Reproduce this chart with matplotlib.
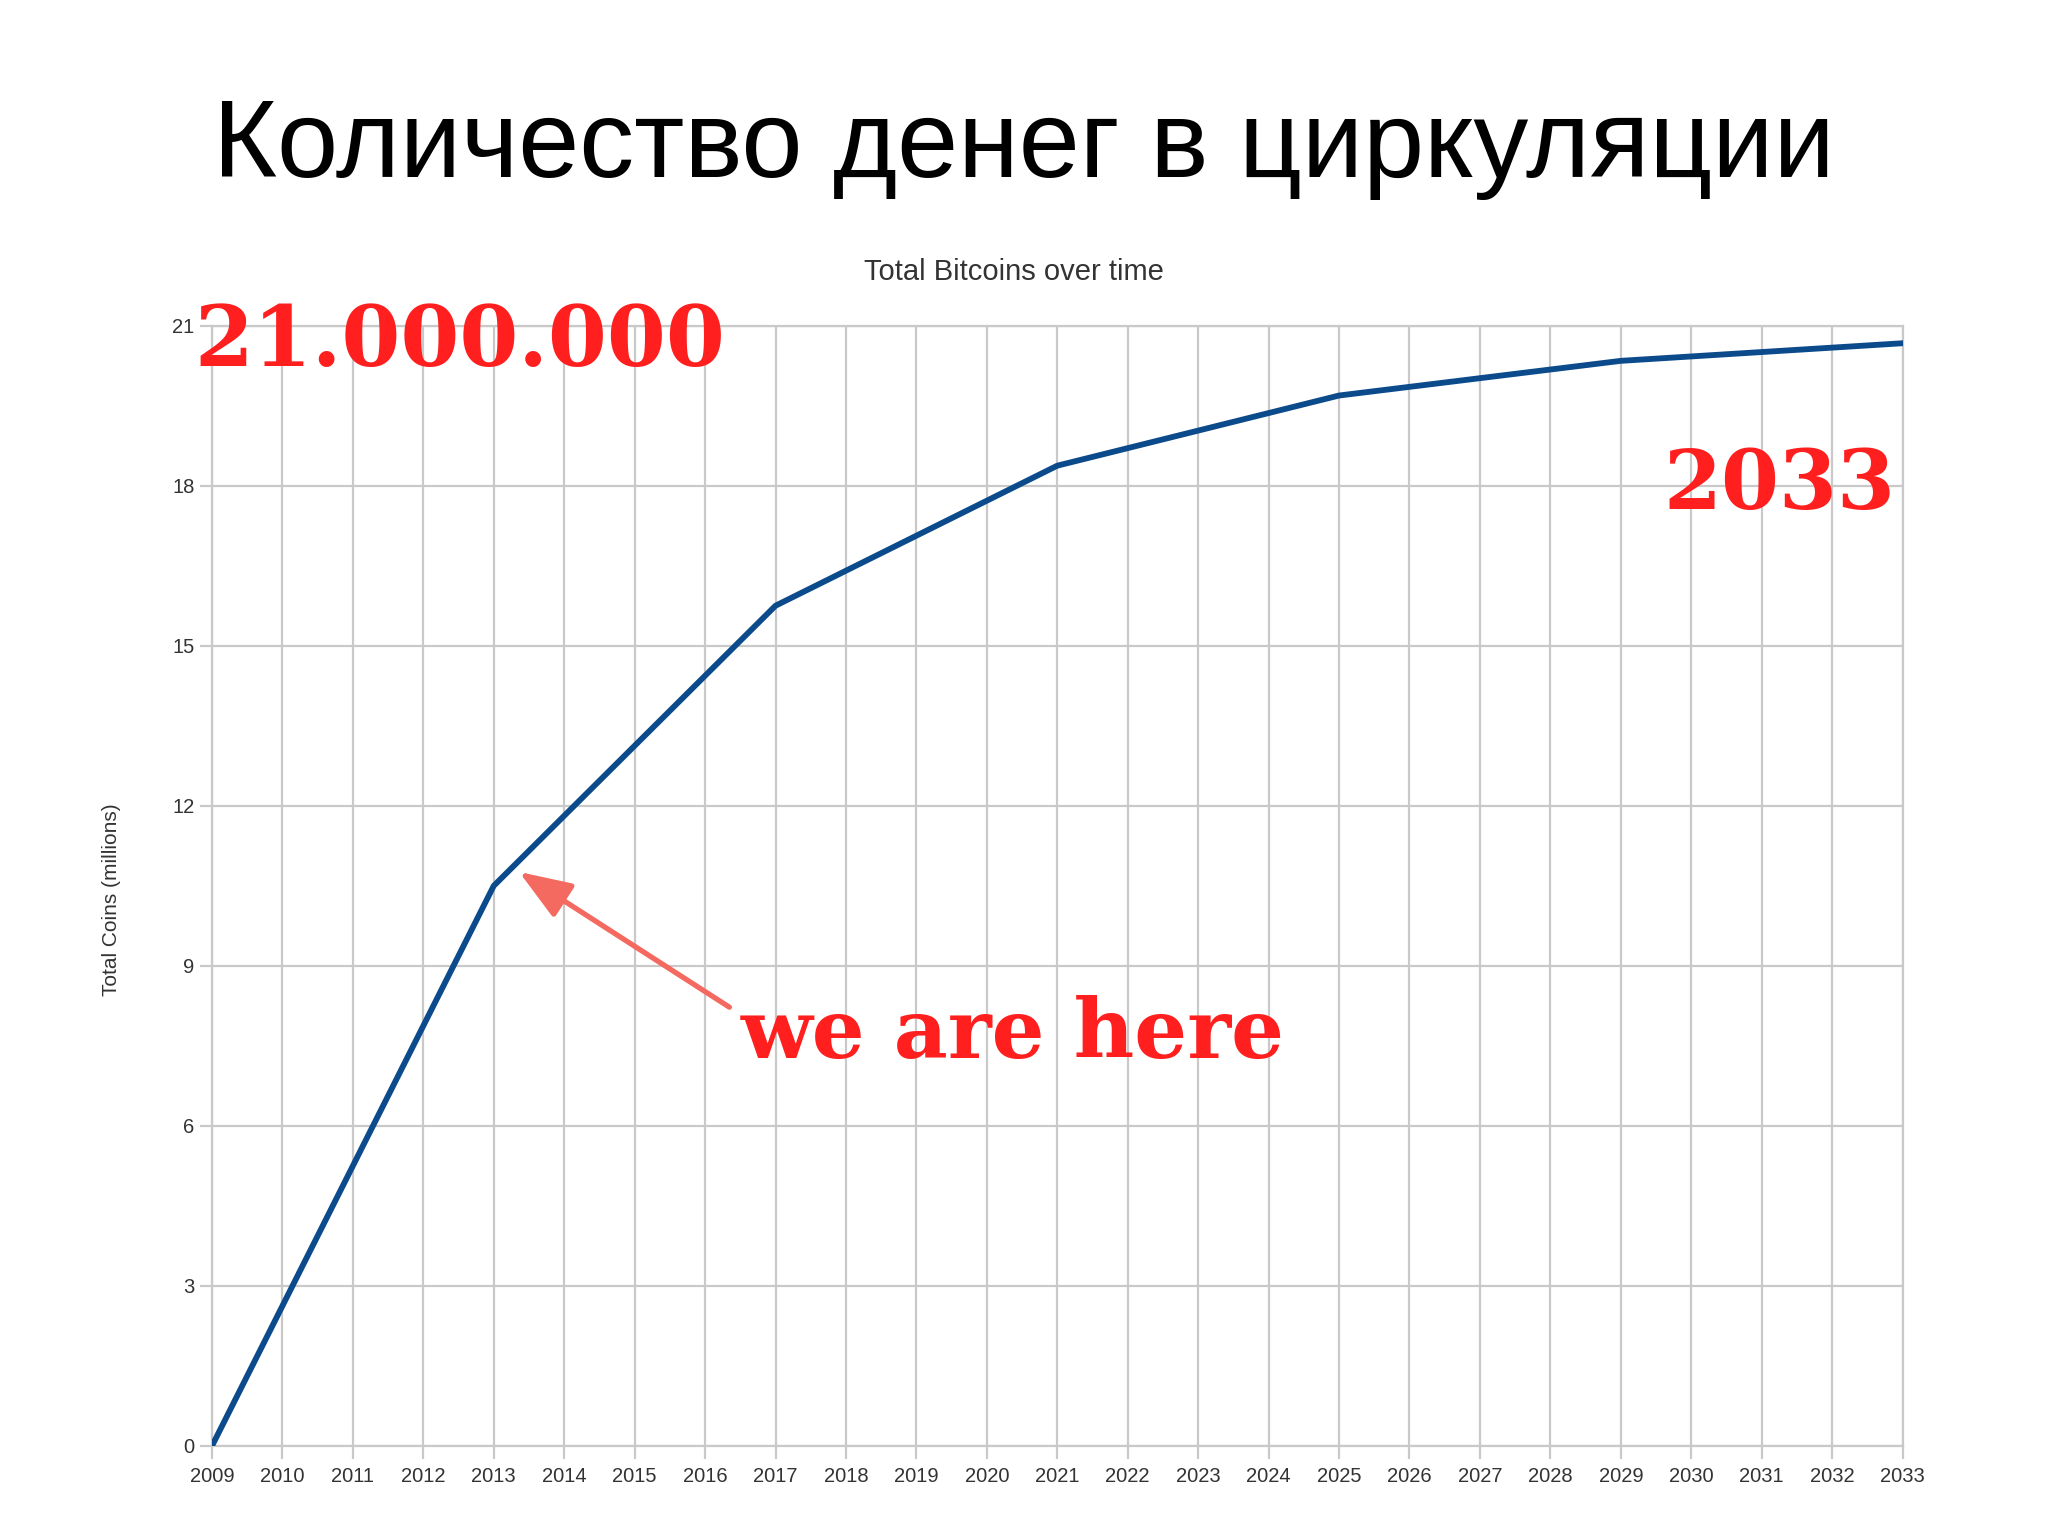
import numpy as np
import matplotlib
matplotlib.use("Agg")
import matplotlib.pyplot as plt

# data (halving points, line is straight between them)
years = [2009, 2013, 2017, 2021, 2025, 2029, 2033]
coins = [0.0, 10.5, 15.75, 18.375, 19.69, 20.34, 20.67]
year_ticks = list(range(2009, 2034))
coin_ticks = [0, 3, 6, 9, 12, 15, 18, 21]

slide_title = "Количество денег в циркуляции"
chart_title = "Total Bitcoins over time"
y_label = "Total Coins (millions)"

plt.rcParams['font.family'] = ['Liberation Sans', 'DejaVu Sans']

fig = plt.figure(figsize=(20.48, 15.36), dpi=100)
ax = fig.add_axes([0.1035, 0.0586, 0.8255, 0.7294])

ax.plot(years, coins, color='#0b4a8b', lw=4.2, solid_capstyle='round', zorder=3)

ax.set_xlim(2009, 2033)
ax.set_ylim(0, 21)
ax.set_xticks(year_ticks)
ax.set_xticklabels([str(y) for y in year_ticks])
ax.set_yticks(coin_ticks)
ax.grid(True, color='#c9c9c9', lw=1.6)
ax.set_axisbelow(True)
for s in ax.spines.values():
    s.set_color('#c9c9c9')
    s.set_linewidth(1.6)
ax.tick_params(axis='both', colors='#c9c9c9', length=9, width=1.6,
               labelcolor='#333333', labelsize=14.5)
ax.tick_params(axis='x', pad=6)

fig.text(0.495, 0.823, chart_title, ha='center', va='center',
         fontsize=21, color='#333333')
ax.set_ylabel(y_label, fontsize=15, color='#333333')
ax.yaxis.set_label_coords(-0.054, 0.488)

fig.text(0.5, 0.903, slide_title, ha='center', va='center',
         fontsize=79, color='black')

serif = ['DejaVu Serif']
ax.text(2008.75, 20.68, "21.000.000", ha='left', va='center', color='#ff1f1f',
        fontsize=61, fontweight='bold', family=serif, zorder=4)
ax.text(2032.9, 18.0, "2033", ha='right', va='center', color='#ff1f1f',
        fontsize=60, fontweight='bold', family=serif, zorder=4)
ax.annotate("we are here", xy=(2013.36, 10.76), xytext=(2016.5, 7.7),
            ha='left', va='center', color='#ff1f1f', fontsize=60,
            fontweight='bold', family=serif, zorder=4,
            arrowprops=dict(arrowstyle='-|>,head_length=1.6,head_width=0.6',
                            color='#f46a60', lw=3.8, mutation_scale=20,
                            relpos=(-0.02, 0.85), shrinkA=0, shrinkB=0))

fig.savefig("out.png", dpi=100, facecolor='white')
